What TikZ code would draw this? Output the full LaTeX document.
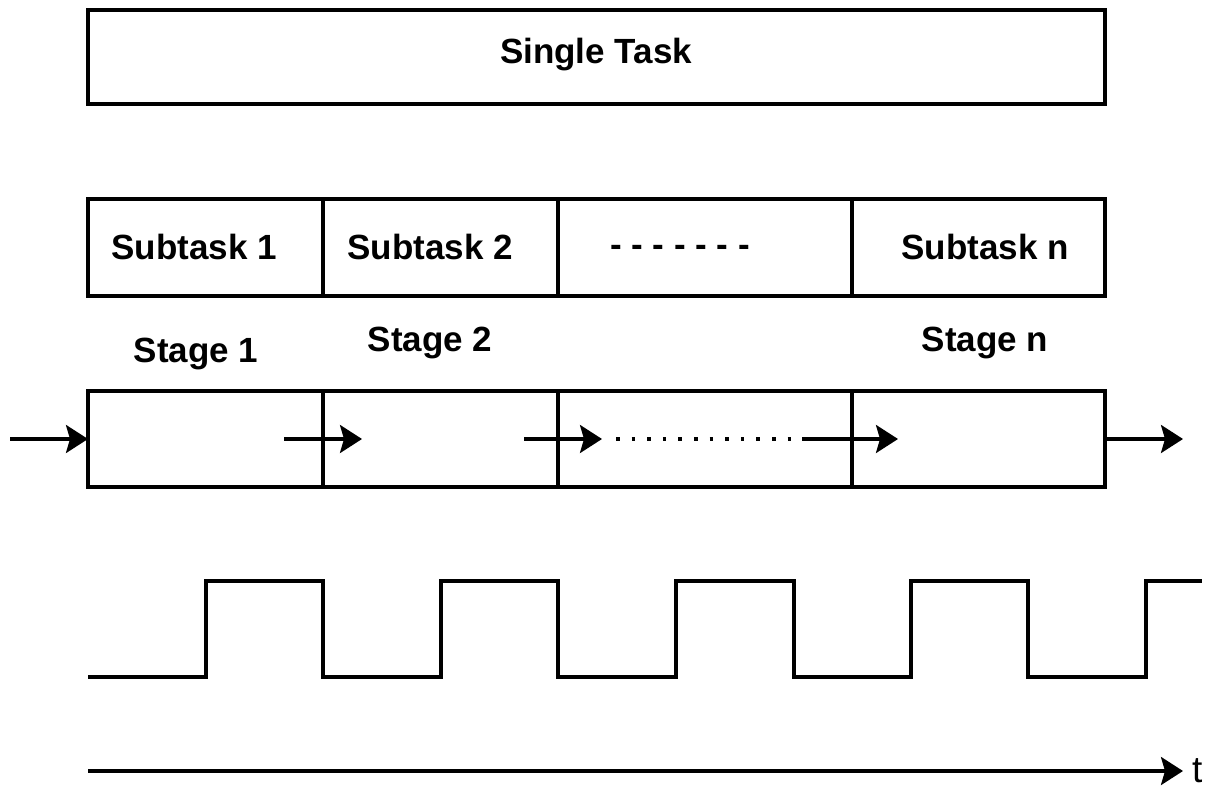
\documentclass[tikz,border=0pt]{standalone}
\usepackage{fontspec}
\setmainfont{Liberation Sans}
\usetikzlibrary{arrows.meta}
\begin{document}
\begin{tikzpicture}[x=1pt,y=-1pt,
  line width=3.2pt, line join=miter,
  cell/.style={draw, rectangle, inner sep=0pt, outer sep=0pt, anchor=north west},
  lbl/.style={font=\fontsize{35}{41}\selectfont\bfseries, inner sep=0pt},
  flow/.style={-{Stealth[length=22pt,width=28pt,inset=4pt]}},
  dotflow/.style={line width=3.6pt, dash pattern=on 3.6pt off 12pt}]
\useasboundingbox (0,0) rectangle (1220,789);

% whole task
\node[cell, minimum width=1017pt, minimum height=94pt] (task) at (88,10) {};
\node[lbl] (tasklbl) at (596,55) {Single Task};

% subtask row
\node[cell, minimum width=235pt, minimum height=97pt] (s1) at (88,199) {};
\node[cell, minimum width=235pt, minimum height=97pt] (s2) at (323,199) {};
\node[cell, minimum width=294pt, minimum height=97pt] (s3) at (558,199) {};
\node[cell, minimum width=253pt, minimum height=97pt] (sn) at (852,199) {};
\node[lbl] (s1lbl) at (194,247) {Subtask 1};
\node[lbl] (s2lbl) at (430,247) {Subtask 2};
\node[lbl] (s3lbl) at (680,251) {- - - - - - -};
\node[lbl] (snlbl) at (985,247) {Subtask n};

% stage labels
\node[lbl] (g1lbl) at (196,354) {Stage 1};
\node[lbl] (g2lbl) at (430,343) {Stage 2};
\node[lbl] (gnlbl) at (985,343) {Stage n};

% stage row
\node[cell, minimum width=235pt, minimum height=96pt] (g1) at (88,391) {};
\node[cell, minimum width=235pt, minimum height=96pt] (g2) at (323,391) {};
\node[cell, minimum width=294pt, minimum height=96pt] (g3) at (558,391) {};
\node[cell, minimum width=253pt, minimum height=96pt] (gn) at (852,391) {};

% data flow through the stages
\coordinate (in) at (10,439);
\coordinate (a2s) at (284,439);
\coordinate (a2e) at (362,439);
\coordinate (a3s) at (524,439);
\coordinate (a3e) at (602,439);
\coordinate (dots) at (616,439);
\coordinate (dote) at (822,439);
\coordinate (a4s) at (802,439);
\coordinate (a4e) at (898,439);
\coordinate (out) at (1183,439);
\draw[flow] (in) -- (g1.west);
\draw[flow] (a2s) -- (a2e);
\draw[flow] (a3s) -- (a3e);
\draw[dotflow] (dots) -- (dote);
\draw[flow] (a4s) -- (a4e);
\draw[flow] (gn.east) -- (out);

% clock
\coordinate (clk0) at (88,677);
\coordinate (clk1) at (1202,581);
\draw (clk0) -- (206,677) -- (206,581) -- (323,581) -- (323,677)
  -- (441,677) -- (441,581) -- (558,581) -- (558,677)
  -- (676,677) -- (676,581) -- (794,581) -- (794,677)
  -- (911,677) -- (911,581) -- (1028,581) -- (1028,677)
  -- (1146,677) -- (1146,581) -- (clk1);

% time axis
\coordinate (t0) at (88,771);
\coordinate (tend) at (1183,771);
\node[font=\fontsize{37}{43}\selectfont, inner sep=0pt, outer sep=0pt, anchor=west] (tlbl) at (1192,771) {t};
\draw[flow] (t0) -- (tend);
\end{tikzpicture}
\end{document}
